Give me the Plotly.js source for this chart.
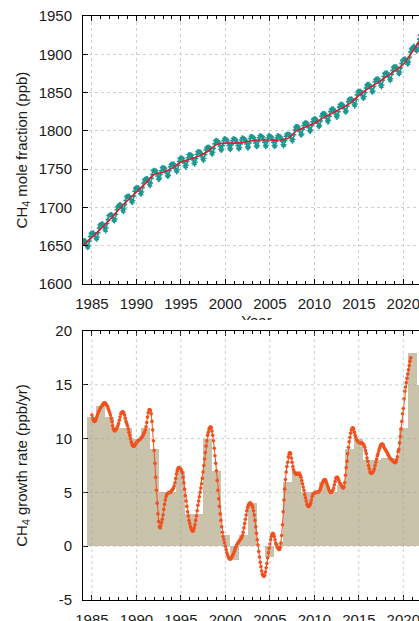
<!DOCTYPE html>
<html><head><meta charset="utf-8">
<script src="https://cdn.plot.ly/plotly-3.0.1.min.js"></script>
<style>
html,body{margin:0;padding:0;background:#fff;overflow:hidden;width:419px;height:621px;}
#topWrap{position:absolute;left:0;top:0;width:440px;height:320px;overflow:hidden;}
#botWrap{position:absolute;left:0;top:320px;width:440px;height:320px;overflow:hidden;}
</style></head><body>
<div id="topWrap"><div id="top"></div></div>
<div id="botWrap"><div id="bot"></div></div>
<script>
// ---------- DATA ----------
const monthlyStartYear = 1984;
const ch4Monthly = [
1656,1657,1657,1655,1652,1649,1647,1650,1656,1662,1666,1667,
1666,1667,1667,1665,1662,1659,1658,1661,1667,1673,1677,1678,
1677,1679,1679,1676,1674,1671,1669,1673,1679,1684,1689,1690,
1690,1691,1691,1689,1686,1683,1682,1685,1691,1697,1701,1702,
1702,1704,1704,1701,1699,1696,1694,1698,1704,1709,1714,1715,
1714,1715,1715,1713,1710,1707,1706,1709,1715,1721,1725,1726,
1725,1726,1726,1724,1721,1718,1717,1720,1726,1732,1736,1737,
1736,1738,1738,1735,1733,1730,1728,1732,1738,1743,1748,1749,
1748,1748,1748,1745,1741,1737,1736,1738,1743,1748,1752,1752,
1751,1752,1751,1748,1745,1741,1740,1742,1748,1753,1756,1757,
1756,1757,1757,1754,1751,1748,1746,1749,1755,1760,1764,1765,
1764,1765,1764,1761,1758,1754,1752,1755,1760,1765,1769,1769,
1768,1769,1768,1765,1762,1758,1756,1759,1764,1769,1773,1773,
1772,1773,1772,1770,1766,1763,1761,1764,1769,1775,1778,1779,
1778,1779,1779,1777,1773,1770,1769,1772,1777,1783,1787,1788,
1787,1787,1786,1784,1780,1776,1774,1776,1781,1787,1790,1790,
1789,1789,1788,1785,1781,1777,1775,1777,1782,1787,1790,1790,
1789,1789,1788,1785,1781,1777,1776,1778,1783,1788,1791,1791,
1790,1790,1789,1787,1783,1779,1777,1779,1784,1790,1793,1793,
1792,1792,1791,1788,1784,1780,1779,1781,1786,1791,1794,1794,
1793,1793,1792,1789,1785,1781,1779,1781,1786,1791,1794,1794,
1793,1793,1792,1789,1785,1781,1779,1781,1786,1791,1794,1794,
1793,1793,1792,1790,1786,1782,1780,1782,1787,1793,1796,1796,
1795,1796,1796,1794,1791,1788,1786,1789,1795,1801,1805,1806,
1805,1806,1805,1802,1799,1795,1794,1796,1802,1807,1810,1811,
1810,1811,1810,1807,1804,1800,1799,1801,1807,1812,1815,1816,
1815,1816,1815,1813,1810,1806,1805,1807,1813,1819,1822,1823,
1822,1823,1822,1820,1816,1813,1811,1814,1819,1825,1828,1829,
1828,1829,1828,1826,1822,1819,1817,1820,1825,1831,1834,1835,
1834,1835,1834,1832,1829,1825,1824,1826,1832,1838,1841,1842,
1841,1842,1842,1840,1837,1834,1832,1835,1841,1847,1851,1852,
1851,1852,1852,1850,1846,1843,1842,1845,1850,1856,1860,1861,
1860,1861,1860,1858,1855,1851,1850,1852,1858,1864,1867,1868,
1867,1868,1868,1865,1862,1859,1857,1860,1866,1871,1875,1876,
1875,1876,1876,1873,1870,1867,1865,1868,1874,1879,1883,1884,
1883,1884,1884,1882,1878,1875,1874,1877,1882,1888,1892,1893,
1893,1894,1894,1893,1890,1887,1887,1890,1896,1903,1907,1908,
1909,1910,1911,1909,1907,1904,1904,1907,1914,1920,1925,1926
];
const trendYears = [1984,1985,1986,1987,1988,1989,1990,1991,1992,1993,1994,1995,1996,1997,1998,1999,2000,2001,2002,2003,2004,2005,2006,2007,2008,2009,2010,2011,2012,2013,2014,2015,2016,2017,2018,2019,2020,2021,2022];
const trendValues = [1651,1661,1672,1684,1697,1709,1720,1731,1743,1746,1751,1759,1763,1767,1773,1782,1784,1784,1785,1787,1788,1788,1788,1790,1800,1805,1810,1817,1823,1829,1836,1846,1855,1862,1870,1878,1887,1903,1921];

const growthStartYear = 1985;
const growthMonthly = [
12.2,11.9,11.7,11.6,11.6,11.7,11.9,12.1,12.3,12.5,12.6,12.8,
12.9,13.0,13.1,13.2,13.3,13.3,13.3,13.2,13.1,13.0,12.8,12.6,
12.4,12.2,11.9,11.6,11.2,10.9,10.75,10.7,10.8,10.9,11.0,11.2,
11.4,11.7,12.0,12.3,12.4,12.5,12.5,12.4,12.2,11.9,11.6,11.4,
11.2,10.9,10.6,10.3,10.0,9.7,9.5,9.35,9.3,9.3,9.4,9.5,
9.6,9.7,9.8,9.85,9.9,9.95,10.0,10.1,10.2,10.3,10.45,10.6,
10.8,11.1,11.5,12.0,12.4,12.65,12.7,12.6,12.3,11.6,10.8,9.8,
8.9,7.7,6.4,5.2,4.0,3.0,2.3,1.8,1.7,1.9,2.2,2.5,
2.9,3.4,3.9,4.3,4.6,4.8,4.9,4.95,5.0,5.0,5.0,5.1,
5.2,5.3,5.4,5.6,5.9,6.3,6.7,7.0,7.2,7.3,7.3,7.25,
7.15,7.0,6.8,6.4,5.9,5.3,4.7,4.2,3.7,3.2,2.8,2.4,
2.1,1.8,1.6,1.45,1.4,1.45,1.7,2.0,2.4,2.8,3.3,3.8,
4.2,4.6,5.0,5.4,5.8,6.3,6.9,7.5,8.1,8.7,9.3,9.8,
10.3,10.6,10.9,11.0,11.1,11.0,10.7,10.3,9.8,9.1,8.4,7.7,
7.0,6.1,5.2,4.4,3.7,3.0,2.4,1.8,1.3,0.9,0.6,0.3,
0.0,-0.3,-0.6,-0.8,-1.0,-1.15,-1.2,-1.2,-1.1,-1.0,-0.85,-0.7,
-0.5,-0.3,-0.1,0.05,0.2,0.3,0.4,0.5,0.6,0.7,0.8,1.0,
1.3,1.7,2.1,2.5,2.9,3.3,3.6,3.8,3.95,4.0,4.0,3.9,
3.8,3.6,3.3,2.9,2.4,1.8,1.2,0.6,0.1,-0.5,-1.0,-1.5,
-1.9,-2.3,-2.6,-2.75,-2.8,-2.7,-2.4,-2.0,-1.6,-1.1,-0.6,-0.2,
0.2,0.6,0.9,1.1,1.2,1.1,0.9,0.6,0.3,0.1,-0.1,-0.2,
-0.3,-0.3,-0.1,0.3,1.0,2.0,3.2,4.3,5.3,6.2,6.9,7.4,
7.8,8.3,8.6,8.7,8.6,8.2,7.8,7.4,7.1,6.9,6.8,6.7,
6.7,6.7,6.75,6.75,6.7,6.6,6.4,6.1,5.8,5.5,5.2,4.8,
4.5,4.2,3.9,3.75,3.7,3.7,3.8,4.0,4.3,4.6,4.8,4.9,
4.95,5.0,5.0,5.0,5.0,5.0,5.05,5.15,5.3,5.5,5.7,5.9,
6.05,6.15,6.2,6.15,6.0,5.8,5.6,5.4,5.2,5.05,5.0,5.0,
5.1,5.2,5.4,5.7,6.0,6.3,6.4,6.4,6.3,6.1,5.9,5.8,
5.7,5.6,5.45,5.4,5.5,5.9,6.6,7.3,7.9,8.6,9.2,9.7,
10.1,10.5,10.8,10.95,11.0,10.9,10.6,10.3,10.1,9.9,9.8,9.7,
9.65,9.6,9.6,9.6,9.6,9.55,9.5,9.4,9.2,8.9,8.6,8.2,
7.9,7.5,7.2,6.9,6.8,6.75,6.8,6.9,7.0,7.2,7.5,7.8,
8.1,8.4,8.6,8.9,9.1,9.3,9.45,9.5,9.5,9.4,9.2,9.05,
8.95,8.85,8.7,8.6,8.45,8.3,8.2,8.1,8.05,8.0,7.9,7.85,
7.8,7.75,7.8,8.0,8.3,8.8,9.0,9.6,10.2,10.9,11.6,12.3,
12.8,13.7,14.4,14.8,15.2,15.6,16.0,16.4,16.8,17.2,17.5
];
const barYears = [1985,1986,1987,1988,1989,1990,1991,1992,1993,1994,1995,1996,1997,1998,1999,2000,2001,2002,2003,2004,2005,2006,2007,2008,2009,2010,2011,2012,2013,2014,2015,2016,2017,2018,2019,2020,2021,2022];
const barValues = [12,13,12,11,11,10,11,9,5,5,7,3,3,10,7,1,-1.3,1,4,0,-1,0.3,6,7,5,5,6,5,5.7,9,10,8,8,8.2,8.2,11,18,15];

const xTickVals = [1985,1990,1995,2000,2005,2010,2015,2020];
const ch4TickVals = [1600,1650,1700,1750,1800,1850,1900,1950];
const growthTickVals = [-5,0,5,10,15,20];

// ---------- STYLE ----------
const FONT = 'Liberation Sans, Arial, Helvetica, sans-serif';
const TXT = '#1a1a1a';
const GRID = '#cfcfcf';

const ch4X = ch4Monthly.map((v, i) => monthlyStartYear + (i + 0.5) / 12);
const growthX = growthMonthly.map((v, i) => growthStartYear + i / 12);

function xAxis(showGrid, titleObj) {
  return {
    range: [1984, 2023], tickmode: 'array', tickvals: xTickVals, ticktext: xTickVals.map(String),
    ticks: 'inside', ticklen: 5, tickwidth: 1, tickcolor: '#000',
    showline: true, linecolor: '#000', linewidth: 1, mirror: 'ticks',
    showgrid: showGrid, gridcolor: GRID, griddash: 'dot', gridwidth: 1, zeroline: false,
    minor: {tickmode: 'linear', tick0: 1984, dtick: 1, ticks: 'inside', ticklen: 3, tickcolor: '#000', showgrid: false},
    tickfont: {family: FONT, size: 15, color: TXT}, ticklabelstandoff: 6,
    title: titleObj, fixedrange: true
  };
}
function yAxis(range, vals, showGrid, titleObj) {
  return {
    range: range, tickmode: 'array', tickvals: vals, ticktext: vals.map(String),
    ticks: 'inside', ticklen: 5, tickwidth: 1, tickcolor: '#000',
    showline: true, linecolor: '#000', linewidth: 1, mirror: 'ticks',
    showgrid: showGrid, gridcolor: GRID, griddash: 'dot', gridwidth: 1, zeroline: false,
    tickfont: {family: FONT, size: 15, color: TXT}, ticklabelstandoff: 7,
    title: titleObj, fixedrange: true
  };
}

// ---------- TOP ----------
const topTraces = [
  {x: ch4X, y: ch4Monthly, type: 'scatter', mode: 'lines+markers',
   line: {color: '#1b9891', width: 1.2},
   marker: {symbol: 'cross', size: 3.8, color: '#1b9891'}, hoverinfo: 'skip'},
  {x: trendYears, y: trendValues, type: 'scatter', mode: 'lines',
   line: {color: '#d81e30', width: 1.6, shape: 'spline', smoothing: 1}, hoverinfo: 'skip'}
];
const topLayout = {
  width: 440, height: 344,
  margin: {l: 83, r: 10, t: 16, b: 60},
  paper_bgcolor: '#fff', plot_bgcolor: '#fff', showlegend: false,
  font: {family: FONT, size: 15, color: TXT},
  xaxis: xAxis(true, {text: 'Year', font: {family: FONT, size: 15, color: TXT}, standoff: 2}),
  yaxis: yAxis([1600, 1950], ch4TickVals, true,
    {text: 'CH<sub>4</sub> mole fraction (ppb)', font: {family: FONT, size: 15, color: TXT}, standoff: 7})
};

// ---------- BOTTOM ----------
const gridShapes = [];
xTickVals.forEach(v => gridShapes.push({type: 'line', xref: 'x', yref: 'paper', x0: v, x1: v, y0: 0, y1: 1,
  line: {color: 'rgba(160,160,160,0.5)', width: 1, dash: 'dot'}, layer: 'above'}));
growthTickVals.slice(1, -1).forEach(v => gridShapes.push({type: 'line', xref: 'paper', yref: 'y', x0: 0, x1: 1, y0: v, y1: v,
  line: {color: 'rgba(160,160,160,0.5)', width: 1, dash: 'dot'}, layer: 'above'}));

const botTraces = [
  {x: barYears, y: barValues, type: 'bar', width: 1,
   marker: {color: '#c9c3ab', line: {width: 0}}, hoverinfo: 'skip'},
  {x: growthX, y: growthMonthly, type: 'scatter', mode: 'lines+markers',
   line: {color: '#f2501c', width: 1},
   marker: {symbol: 'circle', size: 3.6, color: '#f2501c'}, hoverinfo: 'skip'}
];
const botLayout = {
  width: 440, height: 320,
  margin: {l: 83, r: 10, t: 11, b: 40},
  paper_bgcolor: '#fff', plot_bgcolor: '#fff', showlegend: false, bargap: 0,
  font: {family: FONT, size: 15, color: TXT},
  xaxis: xAxis(false, {text: ''}),
  yaxis: yAxis([-5, 20], growthTickVals, false,
    {text: 'CH<sub>4</sub> growth rate (ppb/yr)', font: {family: FONT, size: 15, color: TXT}, standoff: 24}),
  shapes: gridShapes
};

const cfg = {staticPlot: true, displayModeBar: false};
Plotly.newPlot('top', topTraces, topLayout, cfg);
Plotly.newPlot('bot', botTraces, botLayout, cfg);
</script></body></html>
